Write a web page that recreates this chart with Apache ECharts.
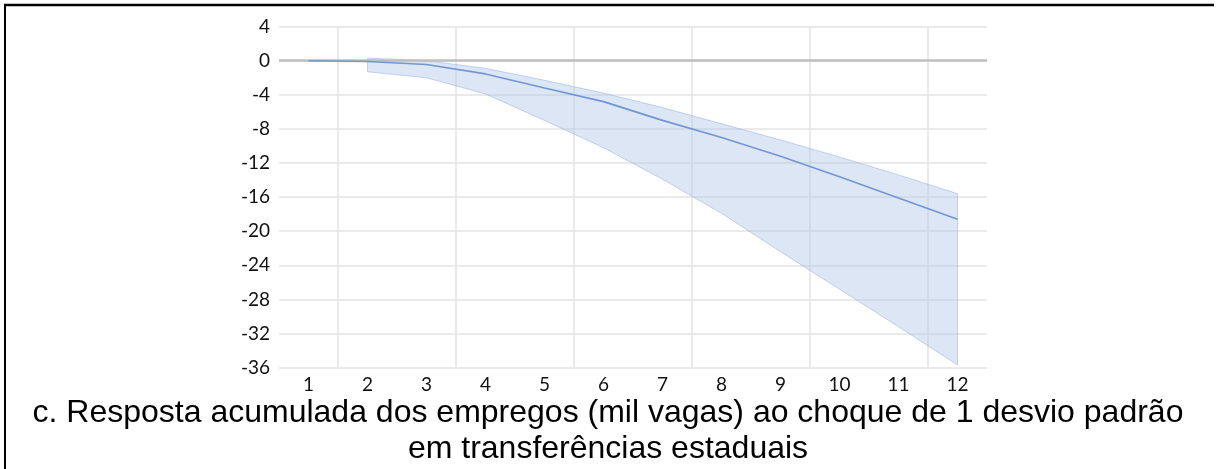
<!DOCTYPE html>
<html>
<head>
<meta charset="utf-8">
<script src="https://cdn.jsdelivr.net/npm/echarts@6/dist/echarts.min.js"></script>
<style>
html,body{margin:0;padding:0;background:#fff;}
#chart{width:1216px;height:469px;}
</style>
</head>
<body>
<div id="chart"></div>
<script>
const categories = ['1','2','3','4','5','6','7','8','9','10','11','12'];
const meanResponse = [0, -0.1, -0.45, -1.55, -3.2, -4.8, -7.0, -9.0, -11.2, -13.6, -16.1, -18.6];
const upperBound = [null, 0.3, 0.0, -0.9, -2.3, -3.8, -5.5, -7.4, -9.3, -11.3, -13.4, -15.6];
const lowerBound = [null, -1.3, -2.0, -3.9, -7.0, -10.2, -13.9, -17.9, -22.4, -26.8, -31.2, -35.7];
const yMin = -36, yMax = 4, yStep = 4;
const caption = 'c. Resposta acumulada dos empregos (mil vagas) ao choque de 1 desvio padrão\nem transferências estaduais';

const chart = echarts.init(document.getElementById('chart'), null, {renderer: 'canvas'});

const tickFont = {fontFamily: 'Lato', fontSize: 19, color: '#111'};
const gridColor = '#e3e3e3';

const option = {
  animation: false,
  backgroundColor: '#ffffff',
  grid: {left: 279, right: 229, top: 26.6, bottom: 101.4, containLabel: false},
  title: {
    text: caption,
    left: 603, top: 390, textAlign: 'center',
    textStyle: {fontFamily: 'Liberation Sans', fontSize: 32, fontWeight: 'normal', color: '#000', lineHeight: 36}
  },
  graphic: [
    {type: 'line', shape: {x1: 4, y1: 5, x2: 1214, y2: 5}, style: {stroke: '#000', lineWidth: 2.5}, z: 100},
    {type: 'line', shape: {x1: 5, y1: 5, x2: 5, y2: 469}, style: {stroke: '#000', lineWidth: 2}, z: 100}
  ],
  xAxis: [
    {
      type: 'category',
      data: categories,
      boundaryGap: true,
      axisLine: {show: false},
      axisTick: {show: false},
      axisLabel: Object.assign({margin: 8}, tickFont),
      splitLine: {show: false}
    },
    {
      type: 'value',
      min: 0, max: categories.length, interval: 1,
      position: 'bottom',
      axisLine: {show: false},
      axisTick: {show: false},
      axisLabel: {show: false},
      splitLine: {show: true, lineStyle: {color: ['rgba(0,0,0,0)', gridColor], width: 1.5}}
    }
  ],
  yAxis: {
    type: 'value',
    min: yMin, max: yMax, interval: yStep,
    axisLine: {show: false},
    axisTick: {show: false},
    axisLabel: Object.assign({margin: 9}, tickFont),
    splitLine: {show: true, lineStyle: {color: gridColor, width: 1.5}}
  },
  series: [
    {
      type: 'custom',
      z: 3,
      data: [0],
      renderItem: function (params, api) {
        const pts = [];
        for (let i = 0; i < categories.length; i++) {
          if (upperBound[i] !== null) pts.push(api.coord([i, upperBound[i]]));
        }
        for (let i = categories.length - 1; i >= 0; i--) {
          if (lowerBound[i] !== null) pts.push(api.coord([i, lowerBound[i]]));
        }
        return {
          type: 'polygon',
          shape: {points: pts},
          style: {fill: 'rgba(180,199,231,0.45)', stroke: 'rgba(150,178,225,0.55)', lineWidth: 1}
        };
      },
      silent: true
    },
    {
      type: 'line',
      z: 2,
      data: [],
      markLine: {
        silent: true,
        symbol: 'none',
        label: {show: false},
        lineStyle: {color: '#bfbfbf', width: 2.5, type: 'solid'},
        data: [{yAxis: 0}]
      }
    },
    {
      type: 'line',
      z: 5,
      data: meanResponse,
      showSymbol: false,
      symbol: 'none',
      lineStyle: {color: '#7096d4', width: 1.6},
      silent: true
    }
  ]
};
chart.setOption(option);
</script>
</body>
</html>
